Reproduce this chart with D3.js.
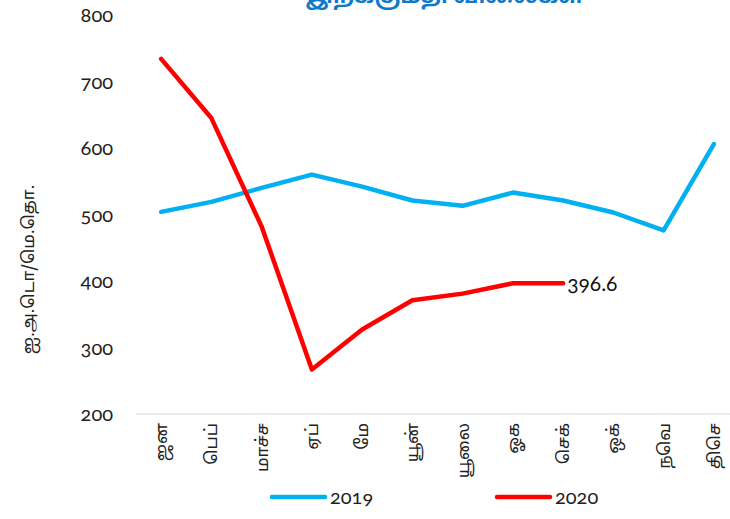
<!DOCTYPE html>
<html>
<head>
<meta charset="utf-8">
<script src="https://cdn.jsdelivr.net/npm/d3@7"></script>
<style>
  body { margin: 0; background: #fff; }
  svg { display: block; }
  .num { font-family: Lato, "Open Sans", sans-serif; font-variant-numeric: oldstyle-nums; }
  .ta { font-family: "Noto Sans Tamil", Latha, "Lohit Tamil", "Noto Sans", sans-serif; }
</style>
</head>
<body>
<div id="chart"></div>
<script>
// Monthly prices, US$ per metric tonne
const months = ["ஜன", "பெப்", "மாச்ச", "ஏப்", "மே", "யூன்", "யூலை", "ஓக", "செக்", "ஒக்", "நவெ", "திசெ"];
const values2019 = [504, 519, 540, 560, 542, 521, 513, 533, 521, 503, 476, 606];
const values2020 = [734, 645, 482, 267, 327, 371, 381, 396.6, 396.6];
const yTicks = [200, 300, 400, 500, 600, 700, 800];
const seriesNames = ["2019", "2020"];

const width = 730, height = 519;
const colors = { "2019": "#00b0f0", "2020": "#ff0000" };

const svg = d3.select("#chart").append("svg")
  .attr("width", width)
  .attr("height", height);

const x = d3.scaleBand().domain(months).range([136, 739]).padding(0);
const y = d3.scaleLinear().domain([200, 800]).range([414, 15]);
const cx = m => x(m) + x.bandwidth() / 2;

// title (mostly cut off at the top in the original)
svg.append("text")
  .attr("class", "ta")
  .attr("x", 445)
  .attr("y", 3)
  .attr("text-anchor", "middle")
  .attr("fill", "#0f7ac9")
  .attr("font-size", 22)
  .attr("font-weight", "bold")
  .text("இறக்குமதி விலைகள்");

// y axis tick labels
svg.append("g")
  .selectAll("text")
  .data(yTicks)
  .join("text")
  .attr("class", "num")
  .attr("x", 113)
  .attr("y", d => y(d))
  .attr("dy", "0.35em")
  .attr("text-anchor", "end")
  .attr("font-size", 20)
  .attr("fill", "#222")
  .text(d => d);

// y axis title
svg.append("text")
  .attr("class", "ta")
  .attr("transform", `translate(34, ${(y(200) + y(800)) / 2 + 55}) rotate(-90)`)
  .attr("text-anchor", "middle")
  .attr("font-size", 17)
  .attr("fill", "#222")
  .text("ஐ.அ.டொ/மெ.தொ.");

// x axis line
svg.append("line")
  .attr("x1", x.range()[0])
  .attr("x2", x.range()[1])
  .attr("y1", y(200))
  .attr("y2", y(200))
  .attr("stroke", "#d9d9d9")
  .attr("stroke-width", 1);

// category labels
svg.append("g")
  .selectAll("text")
  .data(months)
  .join("text")
  .attr("class", "ta")
  .attr("transform", d => `translate(${cx(d) + 6}, 423) rotate(-90)`)
  .attr("text-anchor", "end")
  .attr("font-size", 17)
  .attr("fill", "#222")
  .text(d => d);

// lines
const line = d3.line()
  .x((d, i) => cx(months[i]))
  .y(d => y(d));

const series = [
  { name: "2019", values: values2019 },
  { name: "2020", values: values2020 }
];

svg.append("g")
  .selectAll("path")
  .data(series)
  .join("path")
  .attr("fill", "none")
  .attr("stroke", d => colors[d.name])
  .attr("stroke-width", 4.5)
  .attr("stroke-linejoin", "round")
  .attr("stroke-linecap", "round")
  .attr("d", d => line(d.values));

// data label at the last 2020 point
const lastIdx = values2020.length - 1;
svg.append("text")
  .attr("class", "num")
  .attr("x", cx(months[lastIdx]) + 4)
  .attr("y", y(values2020[lastIdx]))
  .attr("dy", "0.35em")
  .attr("font-size", 21)
  .attr("fill", "#111")
  .text(values2020[lastIdx]);

// legend
const legendX = [272, 497];
const legend = svg.append("g")
  .selectAll("g")
  .data(seriesNames)
  .join("g")
  .attr("transform", (d, i) => `translate(${legendX[i]}, 497)`);

legend.append("line")
  .attr("x1", 0)
  .attr("x2", 53)
  .attr("stroke", d => colors[d])
  .attr("stroke-width", 4.5)
  .attr("stroke-linecap", "round");

legend.append("text")
  .attr("class", "num")
  .attr("x", 58)
  .attr("dy", "0.35em")
  .attr("font-size", 20)
  .attr("fill", "#222")
  .text(d => d);
</script>
</body>
</html>
